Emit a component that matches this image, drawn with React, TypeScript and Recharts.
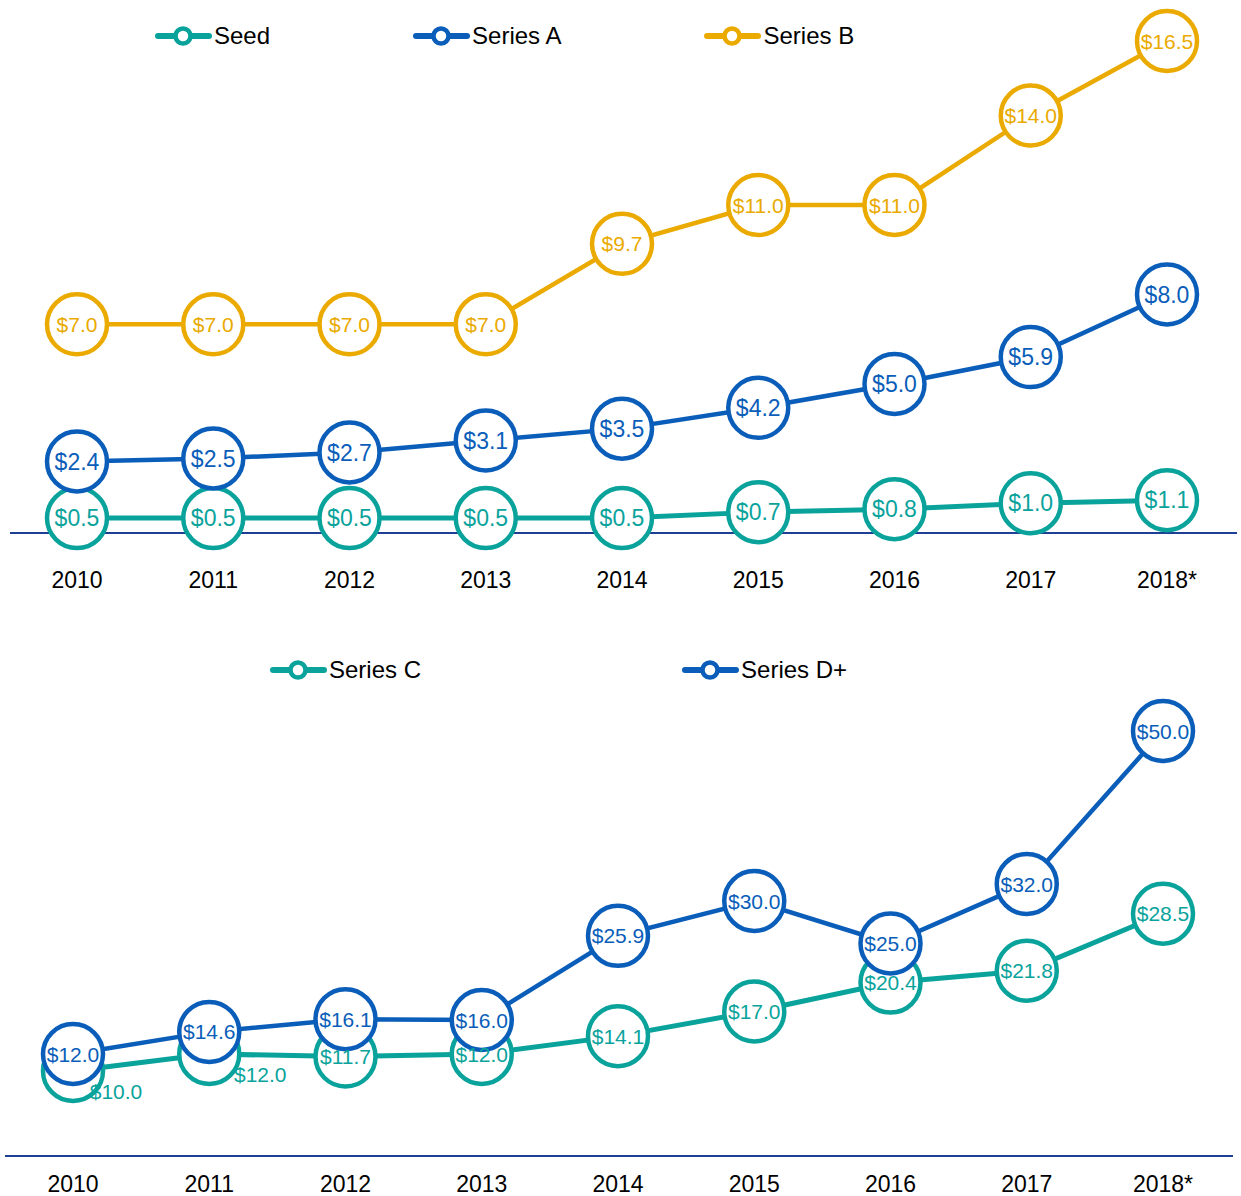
import React from 'react';
import { LineChart, Line, XAxis, YAxis, Legend, LabelList } from 'recharts';

const years = ['2010', '2011', '2012', '2013', '2014', '2015', '2016', '2017', '2018*'];

const seed = [0.5, 0.5, 0.5, 0.5, 0.5, 0.7, 0.8, 1.0, 1.1];
const seriesA = [2.4, 2.5, 2.7, 3.1, 3.5, 4.2, 5.0, 5.9, 8.0];
const seriesB = [7.0, 7.0, 7.0, 7.0, 9.7, 11.0, 11.0, 14.0, 16.5];

const seriesC = [10.0, 12.0, 11.7, 12.0, 14.1, 17.0, 20.4, 21.8, 28.5];
const seriesD = [12.0, 14.6, 16.1, 16.0, 25.9, 30.0, 25.0, 32.0, 50.0];

const TEAL = '#0aa39c';
const BLUE = '#0a5eb9';
const GOLD = '#eaaa00';
const AXIS = '#1f3f95';
const FONT = '"Liberation Sans", Arial, sans-serif';

const topData = years.map((year, i) => ({ year, seed: seed[i], a: seriesA[i], b: seriesB[i] }));
const bottomData = years.map((year, i) => ({ year, c: seriesC[i], d: seriesD[i] }));

const fmt = (v: number) => `$${Number(v).toFixed(1)}`;

// label drawn in the circle; a few Series C labels are nudged to the lower right
const makeLabel = (color: string, size: number, nudge: Record<number, [number, number]> = {}) => (props: any) => {
  const vb = props.viewBox || {};
  const x = props.x ?? vb.x;
  const y = props.y ?? vb.y;
  const [dx, dy] = nudge[props.index] || [0, 0];
  return (
    <text x={x + dx} y={y + dy} dy="0.36em" textAnchor="middle" fill={color} fontSize={size} fontFamily={FONT}>
      {fmt(props.value)}
    </text>
  );
};

interface LegendItem {
  name: string;
  color: string;
}

const LegendRow = ({ items, left, gap }: { items: LegendItem[]; left: number; gap: number }) => (
  <div style={{ display: 'flex', paddingLeft: left, gap, fontFamily: FONT, fontSize: 24, color: '#000' }}>
    {items.map((it) => (
      <div key={it.name} style={{ display: 'flex', alignItems: 'center', height: 26 }}>
        <svg width={57} height={22} style={{ marginRight: 2 }}>
          <line x1={3} x2={54} y1={11} y2={11} stroke={it.color} strokeWidth={6} strokeLinecap="round" />
          <circle cx={28} cy={11} r={7.5} fill="#fff" stroke={it.color} strokeWidth={4.5} />
        </svg>
        <span>{it.name}</span>
      </div>
    ))}
  </div>
);

const dot = (color: string) => ({ r: 30, fill: '#fff', stroke: color, strokeWidth: 4.5 });

export default function App() {
  return (
    <div style={{ position: 'absolute', left: 0, top: 0, width: 1241, height: 1196, background: '#fff' }}>
      <div style={{ position: 'absolute', left: 0, top: 0 }}>
        <LineChart width={1241} height={610} data={topData} margin={{ top: 41, right: 4, bottom: 7, left: 10 }}>
          <XAxis
            dataKey="year"
            interval={0}
            height={70}
            padding={{ left: 67, right: 70 }}
            tickLine={false}
            tickSize={0}
            tickMargin={39}
            axisLine={{ stroke: AXIS, strokeWidth: 2 }}
            tick={{ fill: '#000', fontSize: 23, fontFamily: FONT }}
          />
          <YAxis hide domain={[0, 16.5]} />
          <Legend
            layout="horizontal"
            align="center"
            verticalAlign="middle"
            wrapperStyle={{ top: 23, left: 0, width: 1241 }}
            content={() => (
              <LegendRow
                left={155}
                gap={143}
                items={[
                  { name: 'Seed', color: TEAL },
                  { name: 'Series A', color: BLUE },
                  { name: 'Series B', color: GOLD },
                ]}
              />
            )}
          />
          <Line dataKey="seed" name="Seed" stroke={TEAL} strokeWidth={5} dot={dot(TEAL)} activeDot={false} isAnimationActive={false}>
            <LabelList dataKey="seed" content={makeLabel(TEAL, 23)} />
          </Line>
          <Line dataKey="a" name="Series A" stroke={BLUE} strokeWidth={4.5} dot={dot(BLUE)} activeDot={false} isAnimationActive={false}>
            <LabelList dataKey="a" content={makeLabel(BLUE, 23)} />
          </Line>
          <Line dataKey="b" name="Series B" stroke={GOLD} strokeWidth={4.5} dot={dot(GOLD)} activeDot={false} isAnimationActive={false}>
            <LabelList dataKey="b" content={makeLabel(GOLD, 21)} />
          </Line>
        </LineChart>
      </div>
      <div style={{ position: 'absolute', left: 0, top: 610 }}>
        <LineChart width={1241} height={586} data={bottomData} margin={{ top: 121, right: 8, bottom: 0, left: 5 }}>
          <XAxis
            dataKey="year"
            interval={0}
            height={40}
            padding={{ left: 68, right: 70 }}
            tickLine={false}
            tickSize={0}
            tickMargin={20}
            axisLine={{ stroke: AXIS, strokeWidth: 2 }}
            tick={{ fill: '#000', fontSize: 23, fontFamily: FONT }}
          />
          <YAxis hide domain={[0, 50]} />
          <Legend
            layout="horizontal"
            align="center"
            verticalAlign="middle"
            wrapperStyle={{ top: 47, left: 0, width: 1241 }}
            content={() => (
              <LegendRow
                left={270}
                gap={261}
                items={[
                  { name: 'Series C', color: TEAL },
                  { name: 'Series D+', color: BLUE },
                ]}
              />
            )}
          />
          <Line dataKey="c" name="Series C" stroke={TEAL} strokeWidth={5} dot={dot(TEAL)} activeDot={false} isAnimationActive={false}>
            <LabelList dataKey="c" content={makeLabel(TEAL, 21, { 0: [43, 20], 1: [51, 20] })} />
          </Line>
          <Line dataKey="d" name="Series D+" stroke={BLUE} strokeWidth={4.5} dot={dot(BLUE)} activeDot={false} isAnimationActive={false}>
            <LabelList dataKey="d" content={makeLabel(BLUE, 21)} />
          </Line>
        </LineChart>
      </div>
    </div>
  );
}
